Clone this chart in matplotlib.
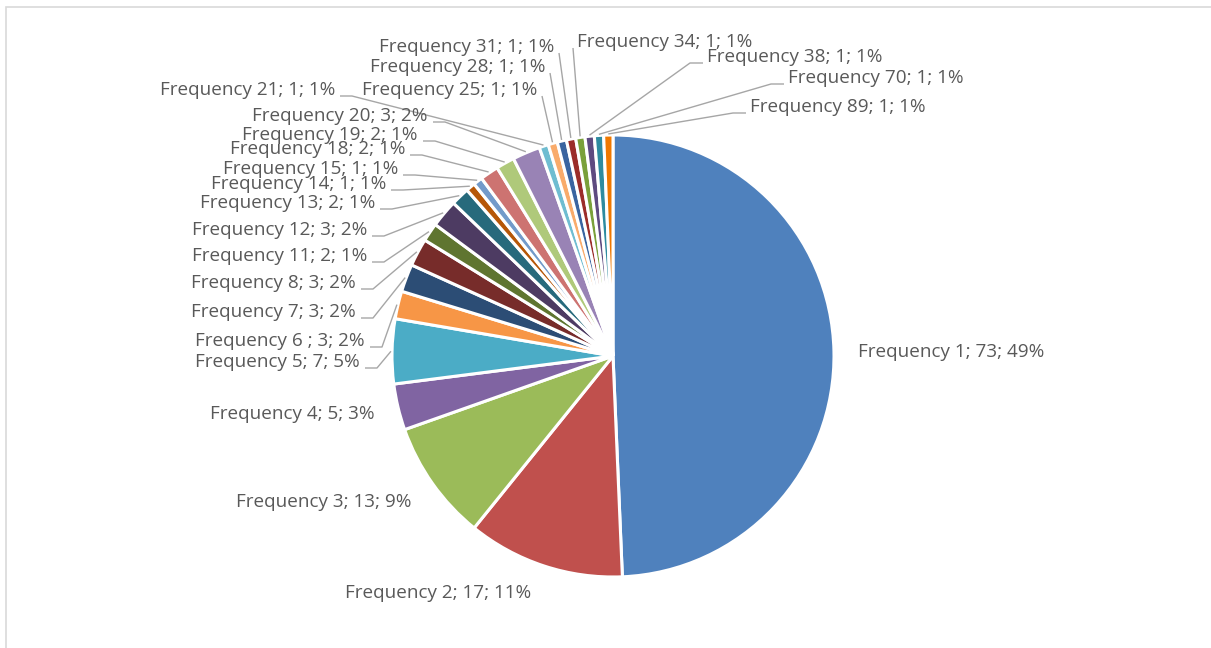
import numpy as np
import matplotlib
matplotlib.use('Agg')
import matplotlib.pyplot as plt
from matplotlib.patches import Rectangle

# --- dane ---
categories = ["Frequency 1", "Frequency 2", "Frequency 3", "Frequency 4", "Frequency 5",
              "Frequency 6 ", "Frequency 7", "Frequency 8", "Frequency 11", "Frequency 12",
              "Frequency 13", "Frequency 14", "Frequency 15", "Frequency 18", "Frequency 19",
              "Frequency 20", "Frequency 21", "Frequency 25", "Frequency 28", "Frequency 31",
              "Frequency 34", "Frequency 38", "Frequency 70", "Frequency 89"]
counts = [73, 17, 13, 5, 7, 3, 3, 3, 2, 3, 2, 1, 1, 2, 2, 3, 1, 1, 1, 1, 1, 1, 1, 1]

colors = ["#4F81BD", "#C0504D", "#9BBB59", "#8064A2", "#4BACC6", "#F79646",
          "#2C4D75", "#772C2A", "#5F7530", "#4D3B62", "#276A7C", "#B65708",
          "#729ACA", "#CD7371", "#AFC97A", "#9983B5", "#6FBDD1", "#F9AB6B",
          "#3A64A0", "#9B2D2A", "#7AA03A", "#5E4A80", "#2E8BA0", "#F07800"]

# pozycje etykiet w pikselach (x, y od góry), wyrównanie, typ linii odniesienia
label_layout = [
    (858, 352, 'left', None), (438, 593, 'center', None),
    (412, 502, 'right', None), (375, 414, 'right', None),
    (360, 362, 'right', 'stub'), (365, 341, 'right', 'stub'),
    (356, 312, 'right', 'stub'), (356, 283, 'right', 'stub'),
    (367, 256, 'right', 'stub'), (367, 230, 'right', 'stub'),
    (375, 203, 'right', 'stub'), (386, 184, 'right', 'stub'),
    (398, 169, 'right', 'stub'), (405, 149, 'right', 'stub'),
    (418, 135, 'right', 'stub'), (428, 116, 'right', 'stub'),
    (335, 90, 'right', 'stub'), (537, 90, 'right', 'direct'),
    (545, 67, 'right', 'direct'), (554, 47, 'right', 'direct'),
    (577, 42, 'left', 'direct'), (707, 57, 'left', 'stub'),
    (788, 78, 'left', 'stub'), (750, 107, 'left', 'stub'),
]

W, H = 1211, 648
CX, CY, R = 613, 356, 221
TEXT_COLOR = "#595959"
LINE_COLOR = "#A6A6A6"

fig = plt.figure(figsize=(W / 100, H / 100), dpi=100)
ax = fig.add_axes([0, 0, 1, 1])

wedges, _ = ax.pie(counts, colors=colors, center=(CX, H - CY), radius=R,
                   startangle=90, counterclock=False,
                   wedgeprops=dict(edgecolor='white', linewidth=2.2))

ax.set_xlim(0, W)
ax.set_ylim(0, H)
ax.set_aspect('equal')
ax.axis('off')

# ramka wykresu
ax.add_patch(Rectangle((5.5, -20), W + 20, H - 6.5 + 20, fill=False,
                       edgecolor="#D9D9D9", linewidth=1.2))

total = sum(counts)
for w, cat, n, (lx, ly, ha, kind) in zip(wedges, categories, counts, label_layout):
    pct = round(100 * n / total)
    txt = f"{cat}; {n}; {pct}%"
    ax.text(lx, H - ly, txt, ha=ha, va='center', fontsize=13.6,
            family=['Open Sans', 'DejaVu Sans'], color=TEXT_COLOR)
    if kind is None:
        continue
    mid = np.deg2rad((w.theta1 + w.theta2) / 2)
    ex = CX + R * 1.005 * np.cos(mid)
    ey = (H - CY) + R * 1.005 * np.sin(mid)
    sy = H - (ly + 6)
    if ha == 'right':
        sx = lx + 5
        stub = sx + 12
    else:
        sx = lx - 4
        stub = sx - 13
    if kind == 'stub':
        xs, ys = [sx, stub, ex], [sy, sy, ey]
    else:
        xs, ys = [sx, ex], [sy, ey]
    ax.plot(xs, ys, color=LINE_COLOR, linewidth=1.0, solid_capstyle='butt')

fig.savefig("out.png", dpi=100)
